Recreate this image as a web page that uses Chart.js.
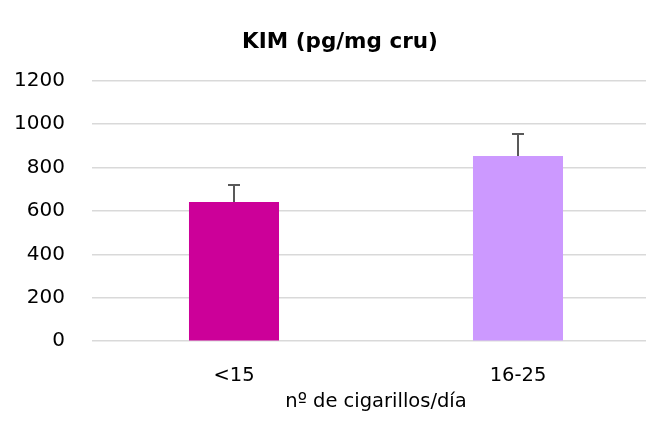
<!DOCTYPE html>
<html><head><meta charset="utf-8">
<script src="https://cdn.jsdelivr.net/npm/chart.js@4/dist/chart.umd.min.js"></script>
<style>
html,body{margin:0;padding:0;background:#fff;overflow:hidden;width:646px;height:426px;}
#wrap{position:absolute;left:0;top:0;width:680px;height:426px;}
</style></head>
<body>
<div id="wrap"><canvas id="c" width="680" height="426"></canvas></div>
<script>
const categories = ['<15', '16-25'];
const values = [642, 854];
const errorUpper = [720, 955];
const barColors = ['#CC0099', '#CC99FF'];
const yTicks = [0, 200, 400, 600, 800, 1000, 1200];
const titleText = 'KIM (pg/mg cru)';
const xTitleText = 'nº de cigarillos/día';

const FONT = "'DejaVu Sans', sans-serif";

const errorBars = {
  id: 'errorBars',
  afterDatasetsDraw(chart) {
    const ctx = chart.ctx;
    const meta = chart.getDatasetMeta(0);
    const y = chart.scales.y;
    ctx.save();
    ctx.strokeStyle = '#595959';
    ctx.lineWidth = 2;
    meta.data.forEach((bar, i) => {
      const top = y.getPixelForValue(errorUpper[i]);
      const base = y.getPixelForValue(values[i]);
      ctx.beginPath();
      ctx.moveTo(bar.x, base);
      ctx.lineTo(bar.x, top);
      ctx.moveTo(bar.x - 6, top);
      ctx.lineTo(bar.x + 6, top);
      ctx.stroke();
    });
    ctx.restore();
  }
};

new Chart(document.getElementById('c'), {
  type: 'bar',
  data: {
    labels: categories,
    datasets: [{
      data: values,
      backgroundColor: barColors,
      borderWidth: 0,
      categoryPercentage: 1,
      barPercentage: 0.317
    }]
  },
  options: {
    responsive: false,
    animation: false,
    layout: { padding: { left: 20, right: 20, top: 30, bottom: 12 } },
    plugins: {
      legend: { display: false },
      tooltip: { enabled: false },
      title: {
        display: true,
        text: titleText,
        color: '#000',
        font: { family: FONT, size: 21.5, weight: 'bold' },
        padding: { top: 0, bottom: 25 }
      }
    },
    scales: {
      y: {
        min: 0, max: 1200,
        afterBuildTicks(s) { s.ticks = yTicks.map(v => ({ value: v })); },
        afterFit(s) { s.width = 72; s._computeLabelArea = function () { return undefined; }; },
        border: { display: false },
        grid: { color: '#d9d9d9', lineWidth: 1.5, drawTicks: false },
        ticks: { color: '#000', padding: 27, font: { family: FONT, size: 20 },
                 callback: (v) => String(v) }
      },
      x: {
        border: { display: false },
        grid: { display: false },
        ticks: { color: '#000', padding: 15, font: { family: FONT, size: 19.5 } },
        title: {
          display: true,
          text: xTitleText,
          color: '#000',
          font: { family: FONT, size: 19.5 },
          padding: { top: -12, bottom: 0 }
        }
      }
    }
  },
  plugins: [errorBars]
});
</script>
</body></html>
